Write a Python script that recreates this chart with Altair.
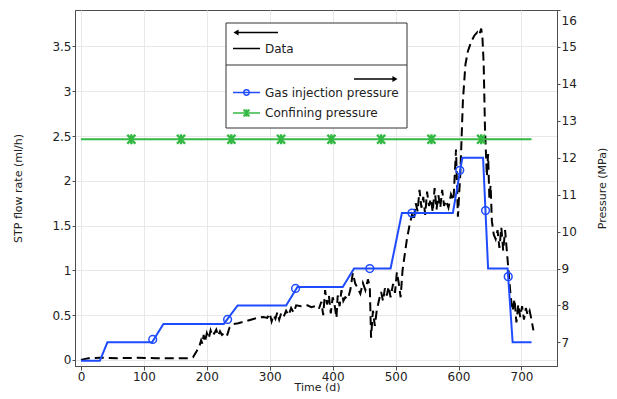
import altair as alt
import pandas as pd

# ---------------- data ----------------
# Measured STP flow rate (ml/h) vs time (d)  -> left axis
t_data = [0, 5, 12, 30, 60, 90, 120, 150, 170, 178, 184, 188, 191, 193, 195, 197, 200, 203, 206, 209,
          212, 215, 218, 221, 224, 228, 232, 236, 242, 250, 260, 270, 280, 290, 296, 300, 303, 306, 309,
          312, 315, 318, 322, 326, 330, 334, 338, 342, 350, 360, 366, 372, 378, 382, 385, 388, 391, 394,
          397, 400, 403, 406, 408, 411, 414, 417, 420, 424, 428, 432, 436, 440, 444, 448, 452, 456, 459,
          461, 464, 467, 470, 474, 477, 480, 483, 486, 489, 492, 496, 499, 502, 505, 508, 511, 514, 518,
          522, 526, 529, 532, 535, 538, 541, 544, 547, 550, 553, 556, 559, 562, 565, 568, 571, 574, 577,
          580, 584, 588, 592, 596, 599, 603, 607, 611, 615, 620, 625, 630, 633, 636, 638, 640, 642, 645,
          647, 649, 651, 653, 656, 659, 662, 665, 668, 671, 674, 677, 680, 683, 686, 689, 692, 695, 698,
          701, 704, 707, 710, 713, 716, 719]
q_data = [0.0, 0.01, 0.02, 0.025, 0.02, 0.025, 0.02, 0.02, 0.02, 0.03, 0.10, 0.15, 0.22, 0.18, 0.28, 0.20,
          0.30, 0.24, 0.33, 0.27, 0.30, 0.34, 0.27, 0.32, 0.28, 0.30, 0.27, 0.36, 0.40, 0.41, 0.43, 0.45,
          0.47, 0.48, 0.47, 0.52, 0.43, 0.50, 0.46, 0.53, 0.45, 0.52, 0.48, 0.55, 0.50, 0.58, 0.53, 0.61,
          0.60, 0.61, 0.59, 0.60, 0.57, 0.65, 0.50, 0.78, 0.62, 0.72, 0.52, 0.70, 0.62, 0.47, 0.72, 0.60,
          0.78, 0.66, 0.70, 0.68, 0.78, 0.97, 0.85, 0.80, 0.74, 0.86, 0.78, 0.90, 0.82, 0.25, 0.55, 0.38,
          0.55, 0.68, 0.76, 0.66, 0.80, 0.72, 0.82, 0.70, 0.85, 0.75, 0.98, 0.86, 0.70, 1.00, 1.15, 1.35,
          1.50, 1.62, 1.56, 1.75, 1.66, 1.90, 1.70, 1.82, 1.62, 1.88, 1.72, 1.80, 1.65, 1.92, 1.68, 1.84,
          1.70, 1.90, 1.72, 1.78, 1.70, 1.85, 1.78, 2.35, 1.60, 2.10, 2.90, 3.30, 3.45, 3.55, 3.62, 3.66,
          3.63, 3.70, 3.60, 3.30, 2.60, 2.05, 2.30, 1.80, 1.95, 1.55, 1.40, 1.35, 1.45, 1.25, 1.48, 1.22,
          1.45, 1.20, 0.95, 0.70, 0.55, 0.68, 0.42, 0.62, 0.48, 0.60, 0.45, 0.58, 0.50, 0.55, 0.45, 0.33]

# Gas injection pressure (MPa) -> right axis
t_gas = [0, 30, 42, 113, 131, 227, 249, 326, 344, 416, 434, 492, 510, 591, 606, 639, 647, 678, 686, 716]
p_gas = [6.5, 6.5, 7.0, 7.0, 7.5, 7.5, 8.0, 8.0, 8.5, 8.5, 9.0, 9.0, 10.5, 10.5, 12.0, 12.0, 9.0, 9.0, 7.0, 7.0]
t_gas_mk = [114, 233, 341, 459, 526, 602, 643, 679]
p_gas_mk = [7.08, 7.62, 8.46, 9.0, 10.5, 11.66, 10.57, 8.78]

# Confining pressure (MPa) -> right axis
t_conf = [0, 716]
p_conf = [12.5, 12.5]
t_conf_mk = [80, 159, 239, 318, 398, 477, 557, 636]
p_conf_mk = [12.5] * 8

x_ticks = [0, 100, 200, 300, 400, 500, 600, 700]
yl_ticks = [0, 0.5, 1, 1.5, 2, 2.5, 3, 3.5]
yr_ticks = [7, 8, 9, 10, 11, 12, 13, 14, 15, 16]

BLUE = "#1f4bff"
GREEN = "#33b844"
FONT = "DejaVu Sans"
W, H = 482, 356

# ---------------- scales / axes ----------------
xscale = alt.Scale(domain=[-9.5, 756.5], nice=False, zero=False)
lscale = alt.Scale(domain=[-0.067, 3.907], nice=False, zero=False)
rscale = alt.Scale(domain=[6.36, 16], nice=False, zero=False)

xaxis = alt.Axis(values=x_ticks, title="Time (d)", grid=True, tickSize=4, labelPadding=1,
                 titleX=W / 2 + 1, titleY=21, titleAlign="center", titleBaseline="middle")
laxis = alt.Axis(values=yl_ticks, format="~g", title="STP flow rate (ml/h)", orient="left", grid=True,
                 tickSize=3, labelPadding=1, titleX=-57, titleY=H / 2, titleAngle=270,
                 titleAlign="center", titleBaseline="middle")
raxis = alt.Axis(values=yr_ticks, format="~g", title="Pressure (MPa)", orient="right", grid=False,
                 tickSize=3, labelPadding=1, labelFlush=True, labelFlushOffset=-5,
                 titleX=45, titleY=H / 2, titleAngle=270,
                 titleAlign="center", titleBaseline="middle")

df_data = pd.DataFrame({"t": t_data, "q": q_data})
df_gas = pd.DataFrame({"t": t_gas, "p": p_gas})
df_gas_mk = pd.DataFrame({"t": t_gas_mk, "p": p_gas_mk})
df_conf = pd.DataFrame({"t": t_conf, "p": p_conf})
df_conf_mk = pd.DataFrame({"t": t_conf_mk, "p": p_conf_mk})

STAR = "M-0.8,-0.9L0.8,0.9M0.8,-0.9L-0.8,0.9M0,-1L0,1"

data_line = alt.Chart(df_data).mark_line(color="black", strokeWidth=2, strokeDash=[9, 5]).encode(
    x=alt.X("t:Q", scale=xscale, axis=xaxis),
    y=alt.Y("q:Q", scale=lscale, axis=laxis),
)

gas_line = alt.Chart(df_gas).mark_line(color=BLUE, strokeWidth=2).encode(
    x=alt.X("t:Q", scale=xscale, axis=xaxis),
    y=alt.Y("p:Q", scale=rscale, axis=raxis),
)
gas_pts = alt.Chart(df_gas_mk).mark_point(color=BLUE, size=60, strokeWidth=1.5, filled=False, opacity=1).encode(
    x=alt.X("t:Q", scale=xscale, axis=xaxis),
    y=alt.Y("p:Q", scale=rscale, axis=raxis),
)
conf_line = alt.Chart(df_conf).mark_line(color=GREEN, strokeWidth=2).encode(
    x=alt.X("t:Q", scale=xscale, axis=xaxis),
    y=alt.Y("p:Q", scale=rscale, axis=raxis),
)
conf_pts = alt.Chart(df_conf_mk).mark_point(color=GREEN, shape=STAR, size=100, strokeWidth=2.4,
                                             filled=False, opacity=1).encode(
    x=alt.X("t:Q", scale=xscale, axis=xaxis),
    y=alt.Y("p:Q", scale=rscale, axis=raxis),
)
pressure = alt.layer(gas_line, conf_line, gas_pts, conf_pts)

# ---------------- legend (drawn manually) ----------------
one = pd.DataFrame({"a": [0]})
LX0, LX1, LY0, LY1 = 151, 332, 13, 118
legend = [
    alt.Chart(one).mark_rect(fill="white", stroke="#333", strokeWidth=1).encode(
        x=alt.value(LX0), x2=alt.value(LX1), y=alt.value(LY0), y2=alt.value(LY1)),
    alt.Chart(one).mark_rule(color="#333", strokeWidth=1).encode(
        x=alt.value(LX0), x2=alt.value(LX1), y=alt.value(55)),
    # left arrow
    alt.Chart(one).mark_rule(color="black", strokeWidth=1.5).encode(
        x=alt.value(161), x2=alt.value(203), y=alt.value(22.5)),
    alt.Chart(one).mark_point(shape="triangle-left", filled=True, color="black", size=35, opacity=1).encode(
        x=alt.value(161), y=alt.value(22.5)),
    # Data entry
    alt.Chart(one).mark_rule(color="black", strokeWidth=1.5).encode(
        x=alt.value(158), x2=alt.value(185), y=alt.value(38.5)),
    alt.Chart(one).mark_text(text="Data", align="left", baseline="middle", font=FONT, fontSize=12,
                             color="#222").encode(x=alt.value(190), y=alt.value(38.5)),
    # right arrow
    alt.Chart(one).mark_rule(color="black", strokeWidth=1.5).encode(
        x=alt.value(279), x2=alt.value(320), y=alt.value(69)),
    alt.Chart(one).mark_point(shape="triangle-right", filled=True, color="black", size=35, opacity=1).encode(
        x=alt.value(320), y=alt.value(69)),
    # gas entry
    alt.Chart(one).mark_rule(color=BLUE, strokeWidth=1.5).encode(
        x=alt.value(158), x2=alt.value(185), y=alt.value(82.5)),
    alt.Chart(one).mark_point(color=BLUE, size=30, strokeWidth=1.3, filled=False, opacity=1).encode(
        x=alt.value(171.5), y=alt.value(82.5)),
    alt.Chart(one).mark_text(text="Gas injection pressure", align="left", baseline="middle", font=FONT,
                             fontSize=12, color="#222").encode(x=alt.value(190), y=alt.value(82.5)),
    # confining entry
    alt.Chart(one).mark_rule(color=GREEN, strokeWidth=1.5).encode(
        x=alt.value(158), x2=alt.value(185), y=alt.value(103)),
    alt.Chart(one).mark_point(color=GREEN, shape=STAR, size=55, strokeWidth=1.9, filled=False, opacity=1).encode(
        x=alt.value(171.5), y=alt.value(103)),
    alt.Chart(one).mark_text(text="Confining pressure", align="left", baseline="middle", font=FONT,
                             fontSize=12, color="#222").encode(x=alt.value(190), y=alt.value(103)),
]

chart = alt.layer(data_line, pressure, *legend).resolve_scale(y="independent").properties(
    width=W, height=H,
    autosize=alt.AutoSizeParams(type="none"),
    padding={"left": 67, "top": 2, "right": 52, "bottom": 26},
).configure_view(
    stroke="#4d4d4d", strokeWidth=1
).configure_axis(
    labelFont=FONT, labelFontSize=12, labelColor="#222",
    titleFont=FONT, titleFontSize=11, titleFontWeight="normal", titleColor="#222",
    domainColor="#4d4d4d", tickColor="#4d4d4d", gridColor="#e8e8e8", gridWidth=1,
)

chart.save("out.html", embed_options={"renderer": "svg", "actions": False})
